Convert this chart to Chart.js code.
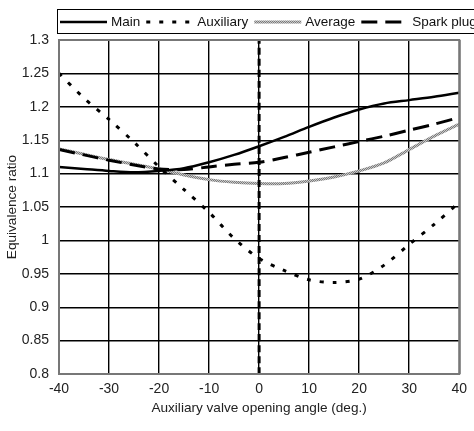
<!DOCTYPE html>
<html>
<head>
<meta charset="utf-8">
<script src="https://cdn.jsdelivr.net/npm/chart.js@4/dist/chart.umd.min.js"></script>
<style>
    html, body { margin: 0; padding: 0; background: #fff; }
    #wrap { width: 474px; height: 431px; }
</style>
</head>
<body>
<div id="wrap"><canvas id="chart"></canvas></div>
<script>
const angles = [-40, -35, -30, -25, -20, -15, -10, -5, 0, 5, 10, 15, 20, 25, 30, 35, 40];
const mainRatio = [1.110, 1.107, 1.104, 1.102, 1.104, 1.108, 1.117, 1.128, 1.141, 1.155, 1.170, 1.184, 1.196, 1.205, 1.210, 1.215, 1.221];
const auxRatio = [1.250, 1.213, 1.181, 1.147, 1.110, 1.076, 1.042, 1.003, 0.973, 0.955, 0.941, 0.937, 0.942, 0.963, 0.994, 1.024, 1.057];
const avgRatio = [1.137, 1.129, 1.121, 1.114, 1.107, 1.098, 1.091, 1.087, 1.085, 1.085, 1.089, 1.095, 1.104, 1.116, 1.136, 1.156, 1.174];
const sparkRatio = [1.136, 1.128, 1.120, 1.113, 1.107, 1.106, 1.110, 1.114, 1.117, 1.124, 1.132, 1.140, 1.148, 1.156, 1.165, 1.174, 1.184];
const markerAngle = 0;
const yTicks = [0.8, 0.85, 0.9, 0.95, 1, 1.05, 1.1, 1.15, 1.2, 1.25, 1.3];

const font = "'Liberation Sans Narrow', 'Liberation Sans', Arial, sans-serif";

function pts(values) {
    return angles.map((a, i) => ({ x: a, y: values[i] }));
}

// speckled grey for the "Average" line
function greyPattern() {
    const c = document.createElement("canvas");
    c.width = 2; c.height = 2;
    const g = c.getContext("2d");
    g.fillStyle = "#7a7a7a"; g.fillRect(0, 0, 2, 2);
    g.fillStyle = "#c8c8c8"; g.fillRect(0, 0, 1, 1); g.fillRect(1, 1, 1, 1);
    return g.createPattern(c, "repeat");
}
const avgColor = greyPattern();

// legend drawn by hand so it can run off the right edge like the original
const legendBox = {
    id: "legendBox",
    afterDraw(chart) {
        const ctx = chart.ctx;
        ctx.save();
        ctx.strokeStyle = "#000";
        ctx.lineWidth = 1;
        ctx.strokeRect(57.5, 9.5, 440, 24);
        ctx.font = "13.5px " + font;
        ctx.textBaseline = "middle";
        ctx.fillStyle = "#111";
        let x = 60;
        chart.data.datasets.forEach(ds => {
            if (!ds.label) return;
            ctx.beginPath();
            ctx.strokeStyle = ds.borderColor;
            ctx.lineWidth = ds.borderWidth;
            ctx.setLineDash(ds.borderDash || []);
            ctx.moveTo(x, 22);
            ctx.lineTo(x + 47, 22);
            ctx.stroke();
            ctx.setLineDash([]);
            x += 51;
            ctx.fillText(ds.label, x, 22);
            x += ctx.measureText(ds.label).width + 6;
        });
        // plot frame
        const a = chart.chartArea;
        ctx.strokeStyle = "#777";
        ctx.lineWidth = 2;
        ctx.strokeRect(a.left, a.top, a.right - a.left, a.bottom - a.top);
        ctx.restore();
    }
};

new Chart(document.getElementById("chart"), {
    type: "line",
    data: {
        datasets: [
            {
                data: [{ x: markerAngle, y: yTicks[0] }, { x: markerAngle, y: yTicks[yTicks.length - 1] }],
                borderColor: "#000",
                borderWidth: 3,
                borderDash: [7, 4],
                order: 0
            },
            {
                label: "Main",
                data: pts(mainRatio),
                borderColor: "#000",
                borderWidth: 2.5,
                order: 1
            },
            {
                label: "Auxiliary",
                data: pts(auxRatio),
                borderColor: "#000",
                borderWidth: 3,
                borderDash: [4, 9],
                order: 2
            },
            {
                label: "Average",
                data: pts(avgRatio),
                borderColor: avgColor,
                borderWidth: 3,
                order: 4
            },
            {
                label: "Spark plug",
                data: pts(sparkRatio),
                borderColor: "#000",
                borderWidth: 3,
                borderDash: [16, 8],
                order: 3
            }
        ]
    },
    options: {
        responsive: true,
        maintainAspectRatio: false,
        animation: false,
        elements: { point: { radius: 0 }, line: { tension: 0.3, fill: false } },
        layout: { padding: { top: 40, right: 5, left: 0, bottom: 0 } },
        plugins: { legend: { display: false }, tooltip: { enabled: false } },
        scales: {
            x: {
                type: "linear",
                min: -40,
                max: 40,
                ticks: { stepSize: 10, color: "#222", font: { family: font, size: 14 }, padding: 7 },
                grid: { color: "#000", lineWidth: 1.4, drawTicks: false },
                border: { display: false },
                title: { display: true, text: "Auxiliary valve opening angle (deg.)", color: "#222", font: { family: font, size: 13.6 }, padding: { top: 0, bottom: 15 } },
                afterFit(s) { s.height = 57; }
            },
            y: {
                min: 0.8,
                max: 1.3,
                afterBuildTicks(s) { s.ticks = yTicks.map(v => ({ value: v })); },
                ticks: {
                    color: "#222",
                    font: { family: font, size: 14 },
                    padding: 10,
                    callback: v => String(parseFloat(v.toFixed(2)))
                },
                grid: { color: "#000", lineWidth: 1.4, drawTicks: false },
                border: { display: false },
                title: { display: true, text: "Equivalence ratio", color: "#222", font: { family: font, size: 13.6 }, padding: { top: 4, bottom: 0 } },
                afterFit(s) { s.width = 59; }
            }
        }
    },
    plugins: [legendBox]
});
</script>
</body>
</html>
